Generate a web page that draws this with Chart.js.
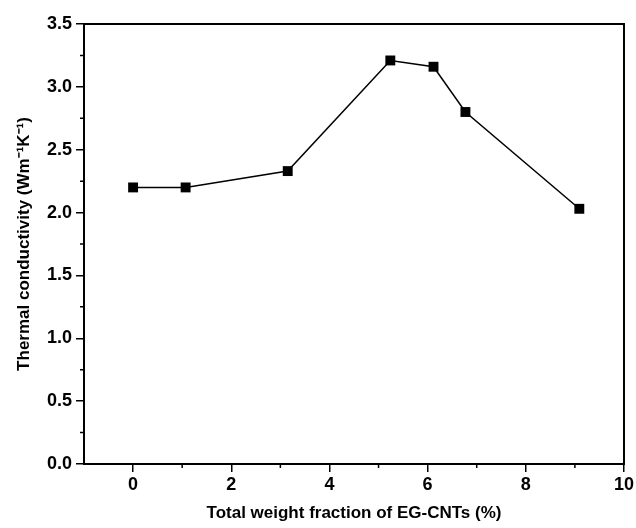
<!DOCTYPE html>
<html>
<head>
<meta charset="utf-8">
<script src="https://cdn.jsdelivr.net/npm/chart.js@4"></script>
<style>
  html, body { margin: 0; padding: 0; background: #fff; }
  #wrap { width: 636px; height: 528px; }
</style>
</head>
<body>
<div id="wrap"><canvas id="chart" width="636" height="528"></canvas></div>
<script>
// values
var fractions = [0, 1.07, 3.15, 5.24, 6.12, 6.77, 9.09];
var conductivity = [2.20, 2.20, 2.33, 3.21, 3.16, 2.80, 2.03];
var xMinorTicks = [1, 3, 5, 7, 9];
var yMinorTicks = [0.25, 0.75, 1.25, 1.75, 2.25, 2.75, 3.25];

var points = fractions.map(function (x, i) { return { x: x, y: conductivity[i] }; });

var tickFont = { family: "'Liberation Sans', Arial, sans-serif", size: 18, weight: 'bold' };
var titleFont = { family: "'Liberation Sans', Arial, sans-serif", size: 17, weight: 'bold' };

// frame round the plot and the short minor ticks
var frame = {
  id: 'frame',
  afterDraw: function (chart) {
    var c = chart.ctx, a = chart.chartArea;
    var xs = chart.scales.x, ys = chart.scales.y;
    c.save();
    c.strokeStyle = '#000';
    c.lineWidth = 2;
    c.strokeRect(a.left, a.top, a.right - a.left, a.bottom - a.top);
    c.lineWidth = 1.5;
    c.beginPath();
    xMinorTicks.forEach(function (v) {
      var px = xs.getPixelForValue(v);
      c.moveTo(px, a.bottom);
      c.lineTo(px, a.bottom + 4);
    });
    yMinorTicks.forEach(function (v) {
      var py = ys.getPixelForValue(v);
      c.moveTo(a.left, py);
      c.lineTo(a.left - 4, py);
    });
    c.stroke();
    c.restore();
  }
};

new Chart(document.getElementById('chart'), {
  type: 'scatter',
  data: {
    datasets: [{
      data: points,
      showLine: true,
      borderColor: '#000',
      borderWidth: 1.5,
      backgroundColor: '#000',
      pointStyle: 'rect',
      pointRadius: 7,
      pointBorderWidth: 0,
      pointBackgroundColor: '#000'
    }]
  },
  options: {
    responsive: false,
    animation: false,
    layout: { padding: { top: 24, right: 11, left: 0, bottom: 0 } },
    plugins: { legend: { display: false }, tooltip: { enabled: false } },
    scales: {
      x: {
        type: 'linear',
        min: -1,
        max: 10,
        afterFit: function (s) { s.height = 64; },
        ticks: {
          stepSize: 1,
          color: '#000',
          font: tickFont,
          padding: 2,
          maxRotation: 0,
          autoSkip: false,
          callback: function (v) { return v % 2 === 0 ? v : ''; }
        },
        grid: {
          drawOnChartArea: false,
          color: function (ctx) { return ctx.tick && ctx.tick.value % 2 === 0 ? '#000' : 'rgba(0,0,0,0)'; },
          lineWidth: 1.5,
          tickLength: 8
        },
        border: { color: '#000', width: 2 },
        title: {
          display: true,
          text: 'Total weight fraction of EG-CNTs (%)',
          color: '#000',
          font: titleFont,
          padding: { top: 0, bottom: 4 }
        }
      },
      y: {
        min: 0,
        max: 3.5,
        afterFit: function (s) { s.width = 84; },
        ticks: {
          stepSize: 0.5,
          color: '#000',
          font: tickFont,
          padding: 4,
          callback: function (v) { return v.toFixed(1); }
        },
        grid: {
          drawOnChartArea: false,
          color: '#000',
          lineWidth: 1.5,
          tickLength: 8
        },
        border: { color: '#000', width: 2 },
        title: {
          display: true,
          text: 'Thermal conductivity (Wm\u207B\u00B9K\u207B\u00B9)',
          color: '#000',
          font: titleFont,
          padding: { top: 14, bottom: 0 }
        }
      }
    }
  },
  plugins: [frame]
});
</script>
</body>
</html>
